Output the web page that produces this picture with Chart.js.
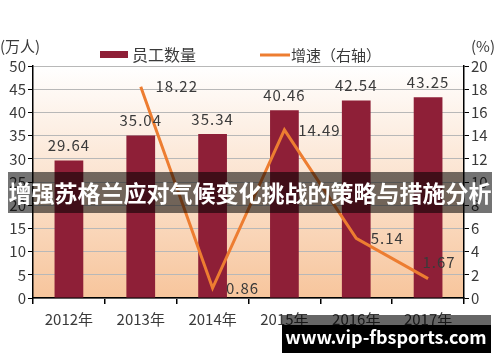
<!DOCTYPE html>
<html>
<head>
<meta charset="utf-8">
<script src="https://cdn.jsdelivr.net/npm/chart.js@4.4.1/dist/chart.umd.min.js"></script>
<style>
  html, body { margin: 0; padding: 0; background: #fff; }
  #wrap { width: 500px; height: 362px; position: relative; }
</style>
</head>
<body>
<div id="wrap"><canvas id="chart" width="500" height="362"></canvas></div>
<script>
const years = ['2012年', '2013年', '2014年', '2015年', '2016年', '2017年'];
const staff = [29.64, 35.04, 35.34, 40.46, 42.54, 43.25];
const growth = [null, 18.22, 0.86, 14.49, 5.14, 1.67];
const leftTicks = [0, 5, 10, 15, 20, 25, 30, 35, 40, 45, 50];
const rightTicks = [0, 2, 4, 6, 8, 10, 12, 14, 16, 18, 20];

const font = '"Noto Sans CJK SC", "Noto Sans", sans-serif';
const barColor = '#8e1f37';
const lineColor = '#ed7d31';

// gradient fill behind the plot area
const backdrop = {
    id: 'backdrop',
    beforeDraw(chart) {
        const { ctx, chartArea: a } = chart;
        const g = ctx.createLinearGradient(0, a.top, 0, a.bottom);
        g.addColorStop(0, '#ffffff');
        g.addColorStop(1, '#f7c59c');
        ctx.save();
        ctx.fillStyle = g;
        ctx.fillRect(a.left, a.top, a.right - a.left, a.bottom - a.top);
        ctx.restore();
    }
};

// value labels, legend, unit titles and overlays
const extras = {
    id: 'extras',
    afterDraw(chart) {
        const ctx = chart.ctx;
        ctx.save();
        ctx.fillStyle = '#3a3a3a';
        ctx.font = '15px ' + font;
        ctx.letterSpacing = '1px';
        ctx.textAlign = 'center';
        ctx.textBaseline = 'middle';
        chart.getDatasetMeta(1).data.forEach((bar, i) => {
            ctx.fillText(staff[i].toFixed(2), bar.x, bar.y - 15);
        });
        // label offsets relative to the line points
        const offs = [null, [36, 0], [30, 0], [35, 0], [31, 0], [11, -16]];
        chart.getDatasetMeta(0).data.forEach((pt, i) => {
            if (growth[i] === null) return;
            ctx.fillText(growth[i].toFixed(2), pt.x + offs[i][0], pt.y + offs[i][1]);
        });
        ctx.letterSpacing = '0px';

        // legend
        ctx.fillStyle = barColor;
        ctx.fillRect(100, 51, 28, 7);
        ctx.strokeStyle = lineColor;
        ctx.lineWidth = 3;
        ctx.beginPath();
        ctx.moveTo(260, 55);
        ctx.lineTo(290, 55);
        ctx.stroke();
        ctx.fillStyle = '#3a3a3a';
        ctx.textAlign = 'left';
        ctx.font = '16px ' + font;
        ctx.fillText('员工数量', 132, 55);
        ctx.font = '15px ' + font;
        ctx.fillText('增速（右轴）', 291, 55);
        ctx.fillText('(万人)', 0, 46);
        ctx.fillText('(%)', 471, 46);

        // banner
        ctx.fillStyle = 'rgba(0,0,0,0.55)';
        ctx.fillRect(8, 172, 484, 41);
        ctx.fillStyle = '#fff';
        ctx.font = 'bold 23px ' + font;
        ctx.textAlign = 'center';
        ctx.fillText('增强苏格兰应对气候变化挑战的策略与措施分析', 250, 193);

        // watermark
        ctx.fillStyle = 'rgba(0,0,0,0.6)';
        ctx.fillRect(282, 315, 209, 10);
        ctx.fillStyle = '#000';
        ctx.fillRect(282, 325, 209, 28);
        ctx.fillStyle = '#fff';
        ctx.font = 'bold 18px ' + font;
        ctx.fillText('www.vip-fbsports.com', 386, 337);
        ctx.restore();
    }
};

new Chart(document.getElementById('chart').getContext('2d'), {
    data: {
        labels: years,
        datasets: [{
            type: 'line',
            label: '增速（右轴）',
            data: growth,
            yAxisID: 'y1',
            borderColor: lineColor,
            borderWidth: 3,
            pointRadius: 0,
            tension: 0,
            order: 0
        }, {
            type: 'bar',
            label: '员工数量',
            data: staff,
            yAxisID: 'y',
            backgroundColor: barColor,
            categoryPercentage: 1,
            barPercentage: 0.4,
            order: 1
        }]
    },
    options: {
        responsive: false,
        animation: false,
        layout: { padding: { top: 66, left: 0, right: 0, bottom: 0 } },
        plugins: { legend: { display: false }, tooltip: { enabled: false } },
        scales: {
            x: {
                offset: true,
                grid: { offset: true, drawOnChartArea: false, tickLength: 6, tickColor: '#000', lineWidth: 1.5 },
                border: { color: '#000', width: 1.5 },
                ticks: { color: '#3a3a3a', font: { family: font, size: 15 }, padding: 6 },
                afterFit(s) { s.height = 64; }
            },
            y: {
                position: 'left',
                min: 0, max: 50,
                afterBuildTicks(s) { s.ticks = leftTicks.map(v => ({ value: v })); },
                grid: { color: '#b8b8b8', lineWidth: 1, tickLength: 5, tickColor: '#000' },
                border: { color: '#000', width: 1.5 },
                ticks: { color: '#3a3a3a', font: { family: font, size: 15 }, padding: 2 },
                afterFit(s) { s.width = 33; }
            },
            y1: {
                position: 'right',
                min: 0, max: 20,
                afterBuildTicks(s) { s.ticks = rightTicks.map(v => ({ value: v })); },
                grid: { drawOnChartArea: false, tickLength: 5, tickColor: '#000' },
                border: { color: '#000', width: 1.5 },
                ticks: { color: '#3a3a3a', font: { family: font, size: 15 }, padding: 2 },
                afterFit(s) { s.width = 36; }
            }
        }
    },
    plugins: [backdrop, extras]
});
</script>
</body>
</html>
